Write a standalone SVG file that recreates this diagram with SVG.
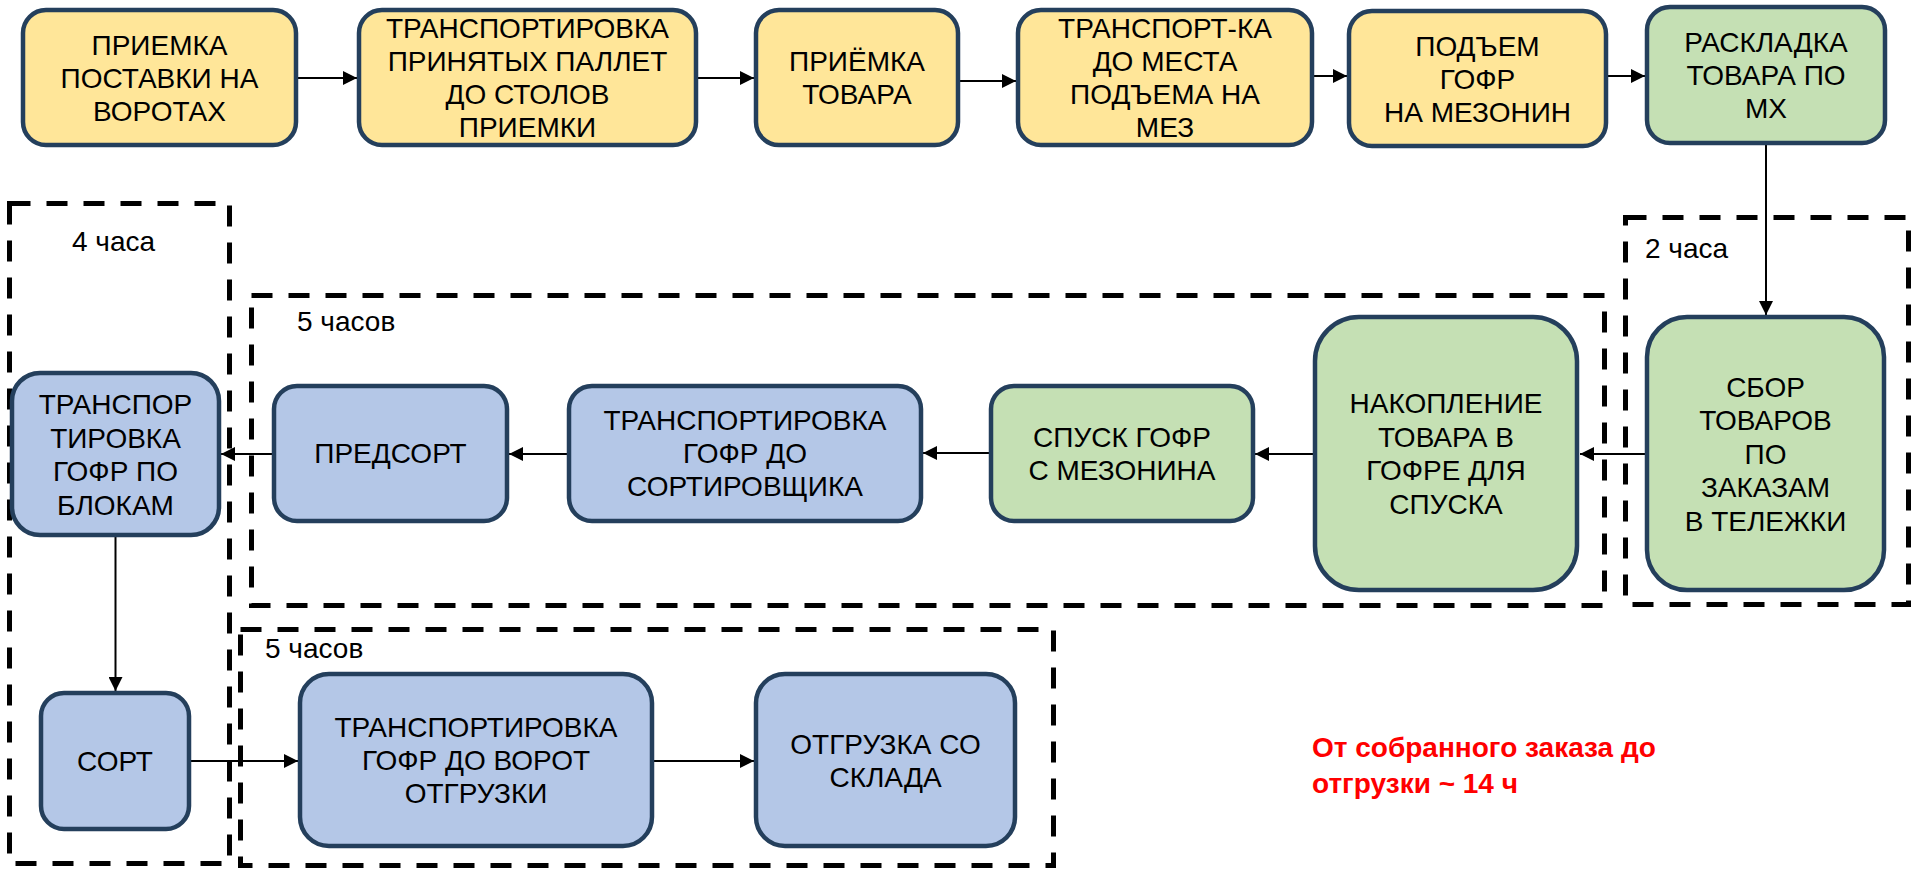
<svg xmlns="http://www.w3.org/2000/svg" width="1915" height="871" viewBox="0 0 1915 871">
<style>
.n{stroke:#243F5C;stroke-width:4.5}
.y{fill:#FFE699}.g{fill:#C5E0B4}.b{fill:#B4C7E7}
.t{font-family:"Liberation Sans",Arial,sans-serif;font-size:28px;fill:#000;text-anchor:middle}
.d{fill:none;stroke:#000;stroke-width:5;stroke-dasharray:21 16}
.l{font-family:"Liberation Sans",Arial,sans-serif;font-size:28px;fill:#000}
.c{stroke:#000;stroke-width:2;fill:none;marker-end:url(#a)}
.r{font-family:"Liberation Sans",Arial,sans-serif;font-size:28px;font-weight:bold;fill:#FF0000}
</style>
<defs>
<marker id="a" viewBox="0 0 14 14" refX="14" refY="7" markerWidth="14" markerHeight="14" markerUnits="userSpaceOnUse" orient="auto"><path d="M0,0 L14,7 L0,14 z" fill="#000"/></marker>
</defs>
<rect width="1915" height="871" fill="#fff"/>
<g id="groups">
<g id="g4h"><rect class="d" x="9.5" y="203.5" width="220" height="660"/><text class="l" x="72" y="251">4 часа</text></g>
<g id="g5h-mid"><rect class="d" x="251.5" y="295.5" width="1353" height="310"/><text class="l" x="297" y="331">5 часов</text></g>
<g id="g2h"><rect class="d" x="1625.5" y="217.5" width="283" height="387"/><text class="l" x="1645" y="258">2 часа</text></g>
<g id="g5h-bot"><rect class="d" x="240.5" y="629.5" width="813" height="236"/><text class="l" x="265" y="658">5 часов</text></g>
</g>
<g id="connectors">
<line class="c" x1="298" y1="78" x2="357" y2="78"/>
<line class="c" x1="698" y1="78" x2="754" y2="78"/>
<line class="c" x1="960" y1="81" x2="1016" y2="81"/>
<line class="c" x1="1314" y1="76" x2="1347" y2="76"/>
<line class="c" x1="1608" y1="76" x2="1645" y2="76"/>
<line class="c" x1="1766" y1="145" x2="1766" y2="315"/>
<line class="c" x1="1645" y1="454" x2="1580" y2="454"/>
<line class="c" x1="1313" y1="454" x2="1255" y2="454"/>
<line class="c" x1="989" y1="453" x2="923" y2="453"/>
<line class="c" x1="567" y1="454" x2="509" y2="454"/>
<line class="c" x1="272" y1="454" x2="221" y2="454"/>
<line class="c" x1="115.5" y1="537" x2="115.5" y2="691"/>
<line class="c" x1="191" y1="761" x2="298" y2="761"/>
<line class="c" x1="654" y1="761" x2="754" y2="761"/>
</g>
<g id="n1"><rect class="n y" x="23" y="10" width="273" height="135" rx="23"/><text class="t" x="159.5" y="55">ПРИЕМКА<tspan x="159.5" dy="33">ПОСТАВКИ НА</tspan><tspan x="159.5" dy="33">ВОРОТАХ</tspan></text></g>
<g id="n2"><rect class="n y" x="359" y="10" width="337" height="135" rx="23"/><text class="t" x="527.5" y="38">ТРАНСПОРТИРОВКА<tspan x="527.5" dy="33">ПРИНЯТЫХ ПАЛЛЕТ</tspan><tspan x="527.5" dy="33">ДО СТОЛОВ</tspan><tspan x="527.5" dy="33">ПРИЕМКИ</tspan></text></g>
<g id="n3"><rect class="n y" x="756" y="10" width="202" height="135" rx="23"/><text class="t" x="857" y="71">ПРИЁМКА<tspan x="857" dy="33">ТОВАРА</tspan></text></g>
<g id="n4"><rect class="n y" x="1018" y="10" width="294" height="135" rx="23"/><text class="t" x="1165" y="38">ТРАНСПОРТ-КА<tspan x="1165" dy="33">ДО МЕСТА</tspan><tspan x="1165" dy="33">ПОДЪЕМА НА</tspan><tspan x="1165" dy="33">МЕЗ</tspan></text></g>
<g id="n5"><rect class="n y" x="1349" y="11" width="257" height="135" rx="23"/><text class="t" x="1477.5" y="55.5">ПОДЪЕМ<tspan x="1477.5" dy="33">ГОФР</tspan><tspan x="1477.5" dy="33">НА МЕЗОНИН</tspan></text></g>
<g id="n6"><rect class="n g" x="1647" y="7" width="238" height="136" rx="23"/><text class="t" x="1766" y="52">РАСКЛАДКА<tspan x="1766" dy="33">ТОВАРА ПО</tspan><tspan x="1766" dy="33">МХ</tspan></text></g>
<g id="n7"><rect class="n g" x="1647" y="317" width="237" height="273" rx="40"/><text class="t" x="1765.5" y="396.5">СБОР<tspan x="1765.5" dy="33.5">ТОВАРОВ</tspan><tspan x="1765.5" dy="33.5">ПО</tspan><tspan x="1765.5" dy="33.5">ЗАКАЗАМ</tspan><tspan x="1765.5" dy="33.5">В ТЕЛЕЖКИ</tspan></text></g>
<g id="n8"><rect class="n g" x="1315" y="317" width="262" height="273" rx="44"/><text class="t" x="1446" y="413">НАКОПЛЕНИЕ<tspan x="1446" dy="33.5">ТОВАРА В</tspan><tspan x="1446" dy="33.5">ГОФРЕ ДЛЯ</tspan><tspan x="1446" dy="33.5">СПУСКА</tspan></text></g>
<g id="n9"><rect class="n g" x="991" y="386" width="262" height="135" rx="23"/><text class="t" x="1122" y="446.5">СПУСК ГОФР<tspan x="1122" dy="33">С МЕЗОНИНА</tspan></text></g>
<g id="n10"><rect class="n b" x="569" y="386" width="352" height="135" rx="23"/><text class="t" x="745" y="430">ТРАНСПОРТИРОВКА<tspan x="745" dy="33">ГОФР ДО</tspan><tspan x="745" dy="33">СОРТИРОВЩИКА</tspan></text></g>
<g id="n11"><rect class="n b" x="274" y="386" width="233" height="135" rx="23"/><text class="t" x="390.5" y="463">ПРЕДСОРТ</text></g>
<g id="n12"><rect class="n b" x="12" y="373" width="207" height="162" rx="28"/><text class="t" x="115.5" y="414">ТРАНСПОР<tspan x="115.5" dy="33.5">ТИРОВКА</tspan><tspan x="115.5" dy="33.5">ГОФР ПО</tspan><tspan x="115.5" dy="33.5">БЛОКАМ</tspan></text></g>
<g id="n13"><rect class="n b" x="41" y="693" width="148" height="136" rx="23"/><text class="t" x="115" y="771">СОРТ</text></g>
<g id="n14"><rect class="n b" x="300" y="674" width="352" height="172" rx="29"/><text class="t" x="476" y="737">ТРАНСПОРТИРОВКА<tspan x="476" dy="33">ГОФР ДО ВОРОТ</tspan><tspan x="476" dy="33">ОТГРУЗКИ</tspan></text></g>
<g id="n15"><rect class="n b" x="756" y="674" width="259" height="172" rx="29"/><text class="t" x="885.5" y="753.5">ОТГРУЗКА СО<tspan x="885.5" dy="33">СКЛАДА</tspan></text></g>
<g id="note"><text class="r" x="1312" y="757">От собранного заказа до<tspan x="1312" dy="36">отгрузки ~ 14 ч</tspan></text></g>
</svg>
